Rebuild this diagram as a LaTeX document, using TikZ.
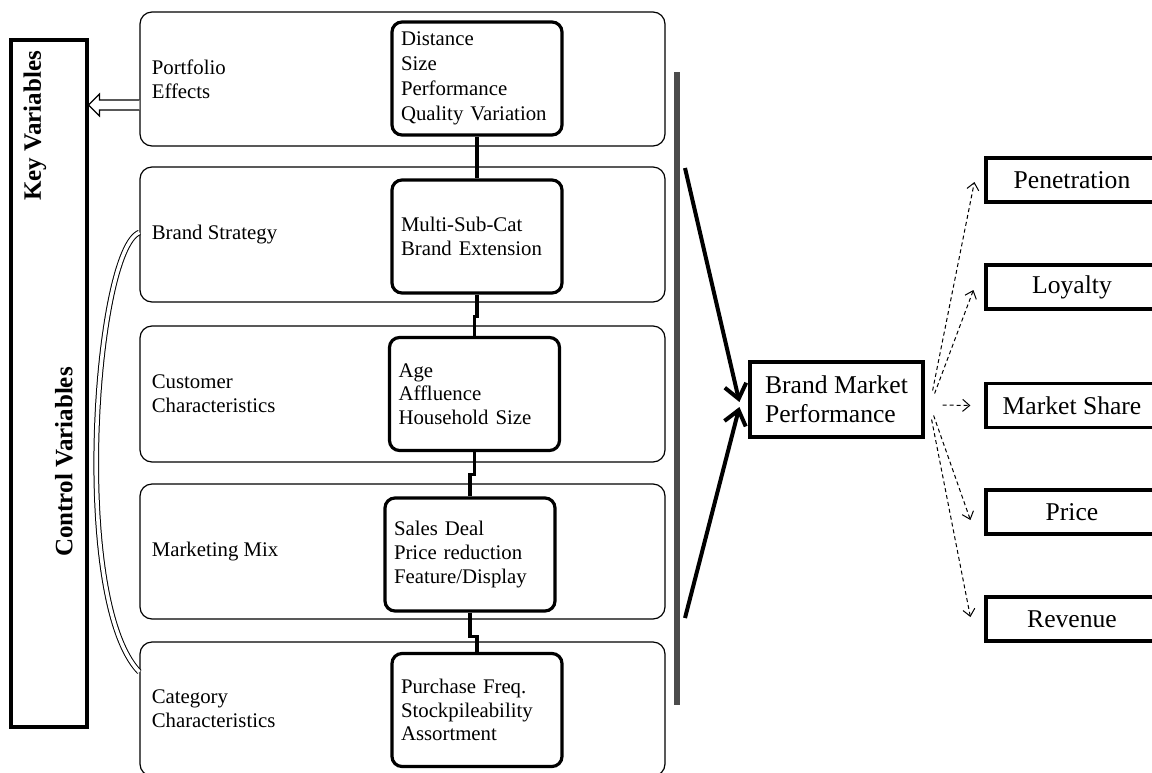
\documentclass[tikz,border=0pt]{standalone}
\usepackage{fontspec}
\setmainfont{Liberation Serif}
\usetikzlibrary{arrows.meta,calc}

% font sizes for the left panel and for the outcome side
\newcommand\panelsz{\fontsize{10.4}{11.8}\selectfont}
\newcommand\outsz{\fontsize{12.8}{14.5}\selectfont}

\begin{document}
\begin{tikzpicture}[x=0.5pt,y=-0.5pt,
  band/.style={draw, line width=0.6pt, rounded corners=6pt, minimum width=262.5pt},
  bandlabel/.style={anchor=west, align=left, font=\panelsz, inner sep=0pt},
  itembox/.style={draw, line width=1.6pt, rounded corners=5pt, minimum width=85pt,
    minimum height=56.5pt, text width=76pt, inner xsep=4.5pt, align=left, font=\panelsz},
  link/.style={line width=1.6pt},
  sidebar/.style={draw, line width=1.6pt, minimum width=38pt, minimum height=343.5pt},
  sidelabel/.style={rotate=90, font=\bfseries\fontsize{12.5}{14}\selectfont},
  hollow/.style={line width=0.6pt, fill=white},
  twin/.style={double, double distance=1.8pt, line width=0.5pt},
  divider/.style={line width=3pt, draw=black!70},
  bigarrow/.style={line width=2pt, -{Straight Barb[length=7pt,width=11pt]}},
  result/.style={draw, line width=1.6pt, minimum width=86pt, minimum height=22pt, font=\outsz},
  perf/.style={draw, line width=1.6pt, minimum width=86.5pt, minimum height=37.5pt,
    align=left, font=\outsz},
  dasharrow/.style={line width=0.5pt, dash pattern=on 2pt off 1.5pt,
    -{Straight Barb[length=3.5pt,width=6pt]}}
]
\useasboundingbox (0,0) rectangle (1152,772);

% variable groups on the left
\node[sidebar] (vars) at (49,383.5) {};
\node[sidelabel] (keyv) at (35,126) {Key Variables};
\node[sidelabel] (ctrlv) at (64,462) {Control Variables};

% the five bands
\node[band, minimum height=67pt]   (pf)  at (402.5,79)  {};
\node[band, minimum height=67.5pt] (bs)  at (402.5,234.5) {};
\node[band, minimum height=68pt]   (cc)  at (402.5,394) {};
\node[band, minimum height=67.5pt] (mm)  at (402.5,551.5) {};
\node[band, minimum height=67pt]   (cat) at (402.5,709) {};

\node[bandlabel] (pfl)  at ($(pf.west)+(12,0)$)  {Portfolio\\Effects};
\node[bandlabel] (bsl)  at ($(bs.west)+(12,0)$)  {Brand Strategy};
\node[bandlabel] (ccl)  at ($(cc.west)+(12,0)$)  {Customer\\Characteristics};
\node[bandlabel] (mml)  at ($(mm.west)+(12,0)$)  {Marketing Mix};
\node[bandlabel] (catl) at ($(cat.west)+(12,0)$) {Category\\Characteristics};

% measures inside each band
\node[itembox, font=\fontsize{10.4}{12.4}\selectfont] (pfi) at (477,78.5)
  {Distance\\Size\\Performance\\Quality Variation};
\node[itembox] (bsi)  at (477,236.5) {Multi-Sub-Cat\\Brand Extension};
\node[itembox] (cci)  at (474.5,394) {Age\\Affluence\\Household Size};
\node[itembox] (mmi)  at (470,554.5) {Sales Deal\\Price reduction\\Feature/Display};
\node[itembox] (cati) at (477,710)   {Purchase Freq.\\Stockpileability\\Assortment};

% chain linking the measures
\draw[link] (pfi.south) -- (bsi.north);
\draw[link] (bsi.south) -- ++(0,22) -| (cci.north);
\draw[link] (cci.south) -- ++(0,22) -| (mmi.north);
\draw[link] (mmi.south) -- ++(0,24) -| (cati.north);

% hollow arrow from the portfolio band to the key variables
\coordinate (pfa) at ($(pf.west)+(0,26)$);
\draw[hollow] ($(pfa)+(0,-5)$) -- ++(-40,0) -- ++(0,-6) -- (vars.east |- pfa)
  -- ($(pfa)+(-40,11)$) -- ++(0,-6) -- ($(pfa)+(0,5)$);

% bracket spanning the control bands
\draw[twin] ($(bs.west)+(0,-2)$) .. controls (95,250) and (70,600) .. ($(cat.west)+(0,-37)$);

% divider
\coordinate (dtop) at (677,72);
\coordinate (dbot) at (677,705);
\draw[divider] (dtop) -- (dbot);

% performance and outcomes
\node[perf] (bmp) at (836.5,399.5) {Brand Market\\Performance};

\coordinate (upin) at (685,168);
\coordinate (lowin) at (685,618);
\draw[bigarrow] (upin) -- ($(bmp.west)+(-9,2.5)$);
\draw[bigarrow] (lowin) -- ($(bmp.west)+(-9,7.5)$);

\node[result] (pen) at (1072,180)   {Penetration};
\node[result] (loy) at (1072,287)   {Loyalty};
\node[result] (ms)  at (1072,405.5) {Market Share};
\node[result] (pr)  at (1072,512)   {Price};
\node[result] (rev) at (1072,619)   {Revenue};

\draw[dasharrow] ($(bmp.east)+(8,-9)$)  -- ($(pen.west)+(-10,2)$);
\draw[dasharrow] ($(bmp.east)+(10,-6)$) -- ($(loy.west)+(-11,3)$);
\draw[dasharrow] ($(bmp.east)+(18,5.5)$) -- ($(ms.west)+(-14,0)$);
\draw[dasharrow] ($(bmp.east)+(9,16)$)  -- ($(pr.west)+(-14,8)$);
\draw[dasharrow] ($(bmp.east)+(7,20)$)  -- ($(rev.west)+(-14,-2)$);
\end{tikzpicture}
\end{document}
